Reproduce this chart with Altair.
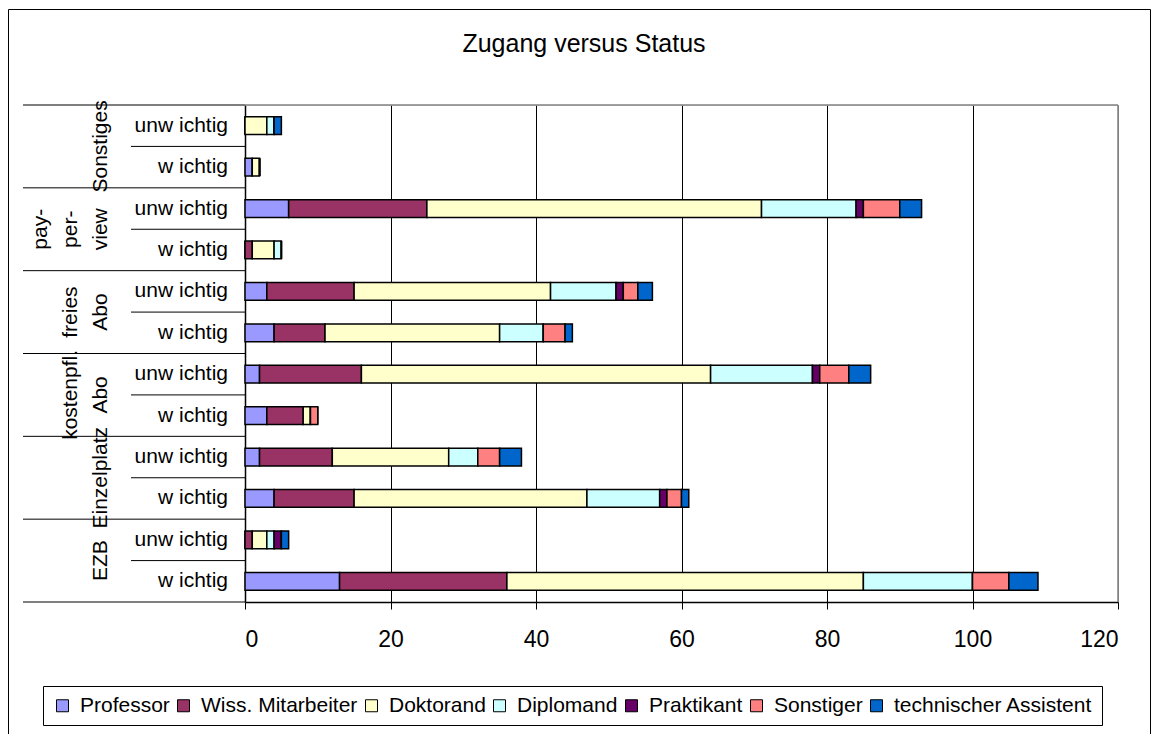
import altair as alt
import pandas as pd

# ---- data ----
groups = ["Sonstiges", "pay-per-view", "freies Abo", "kostenpfl. Abo", "Einzelplatz", "EZB"]
group_labels = ["Sonstiges", "pay-\nper-\nview", "freies\nAbo", "kostenpfl.\nAbo", "Einzelplatz", "EZB"]
sub_labels = ["unw ichtig", "w ichtig"]
statuses = ["Professor", "Wiss. Mitarbeiter", "Doktorand", "Diplomand",
            "Praktikant", "Sonstiger", "technischer Assistent"]
colors = ["#9999FF", "#993366", "#FFFFCC", "#CCFFFF", "#660066", "#FF8080", "#0066CC"]

# values per row, top to bottom (group x sub label)
professor = [0, 1, 6, 0, 3, 4, 2, 3, 2, 4, 0, 13]
wiss_mitarbeiter = [0, 0, 19, 1, 12, 7, 14, 5, 10, 11, 1, 23]
doktorand = [3, 1, 46, 3, 27, 24, 48, 1, 16, 32, 2, 49]
diplomand = [1, 0, 13, 1, 9, 6, 14, 0, 4, 10, 1, 15]
praktikant = [0, 0, 1, 0, 1, 0, 1, 0, 0, 1, 1, 0]
sonstiger = [0, 0, 5, 0, 2, 3, 4, 1, 3, 2, 0, 5]
tech_assistent = [1, 0, 3, 0, 2, 1, 3, 0, 3, 1, 1, 4]

x_ticks = [0, 20, 40, 60, 80, 100, 120]
title_text = "Zugang versus Status"

# ---- tables ----
series = [professor, wiss_mitarbeiter, doktorand, diplomand, praktikant, sonstiger, tech_assistent]
row_keys = [f"{g}|{s}" for g in groups for s in sub_labels]
n_rows = len(row_keys)

bar_rows = []
for si, (st, vals) in enumerate(zip(statuses, series)):
    for ri, key in enumerate(row_keys):
        bar_rows.append({"row": key, "status": st, "value": vals[ri], "order": si})
bar_df = pd.DataFrame(bar_rows)

sub_df = pd.DataFrame({"pos": [i + 0.5 for i in range(n_rows)],
                       "label": [sub_labels[i % 2] for i in range(n_rows)]})
line_rows = []
for gi, lab in enumerate(group_labels):
    parts = lab.split("\n")
    for k, part in enumerate(parts):
        line_rows.append({"pos": 2 * gi + 1, "label": part, "from_end": len(parts) - 1 - k})
grp_df = pd.DataFrame(line_rows)
outer_lines = pd.DataFrame({"pos": [2 * i for i in range(len(groups) + 1)]})
inner_lines = pd.DataFrame({"pos": [2 * i + 1 for i in range(len(groups))]})
one = pd.DataFrame({"t": [title_text]})

FONT = "Liberation Sans"
yq = alt.Scale(domain=[0, n_rows], reverse=True, nice=False, zero=False)

bars = alt.Chart(bar_df).mark_bar(stroke="black", strokeWidth=1.5).encode(
    x=alt.X("value:Q", stack="zero",
            scale=alt.Scale(domain=[0, 120], nice=False),
            axis=alt.Axis(values=x_ticks, title=None, grid=True,
                          gridColor={"condition": {"test": "datum.value >= 120", "value": "#808080"}, "value": "black"},
                          gridWidth=1, gridOpacity=1,
                          domainColor="black", domainWidth=1.5, tickColor="black", tickSize=7,
                          labelFontSize=23, labelPadding=19, labelColor="black", labelFont=FONT)),
    y=alt.Y("row:N", sort=row_keys,
            scale=alt.Scale(paddingInner=0.57, paddingOuter=0.285),
            axis=alt.Axis(labels=False, ticks=False, title=None, grid=False,
                          domainColor="black", domainWidth=1.5)),
    color=alt.Color("status:N", scale=alt.Scale(domain=statuses, range=colors),
                    legend=alt.Legend(title=None, orient="none", legendX=-202, legendY=581,
                                      direction="horizontal", symbolType="square", symbolSize=144,
                                      symbolStrokeColor="black", symbolStrokeWidth=1,
                                      labelFontSize=21, labelFont=FONT, labelColor="black",
                                      labelOffset=7, columnPadding=3, padding=9,
                                      strokeColor="black", fillColor="white", labelLimit=0)),
    order=alt.Order("order:Q"),
)

top_border = alt.Chart(one).mark_rule(color="#808080", strokeWidth=1.5).encode(
    x=alt.value(0), x2=alt.value("width"), y=alt.value(0))
right_border = alt.Chart(one).mark_rule(color="#808080", strokeWidth=1.5).encode(
    x=alt.value("width"), y=alt.value(0), y2=alt.value("height"))

outer_rules = alt.Chart(outer_lines).mark_rule(color="black", strokeWidth=1).encode(
    x=alt.value(-222), x2=alt.value(0), y=alt.Y("pos:Q", scale=yq, axis=None))
inner_rules = alt.Chart(inner_lines).mark_rule(color="black", strokeWidth=1).encode(
    x=alt.value(-114), x2=alt.value(0), y=alt.Y("pos:Q", scale=yq, axis=None))

sub_text = alt.Chart(sub_df).mark_text(align="right", baseline="middle", fontSize=21,
                                       font=FONT, color="black").encode(
    x=alt.value(-17), y=alt.Y("pos:Q", scale=yq, axis=None), text="label:N")


def group_line_layer(k, xpix):
    return alt.Chart(grp_df).transform_filter(alt.datum.from_end == k).mark_text(
        angle=270, align="center", baseline="bottom", fontSize=21, font=FONT, color="black"
    ).encode(x=alt.value(xpix), y=alt.Y("pos:Q", scale=yq, axis=None), text="label:N")


grp_text0 = group_line_layer(0, -134)
grp_text1 = group_line_layer(1, -164)
grp_text2 = group_line_layer(2, -194)

title = alt.Chart(one).mark_text(align="center", baseline="alphabetic", fontSize=25,
                                 font=FONT, color="black").encode(
    x=alt.value(339), y=alt.value(-53), text="t:N")

frame = alt.Chart(one).mark_rect(filled=False, stroke="black", strokeWidth=1).encode(
    x=alt.value(-236.5), x2=alt.value(905.5), y=alt.value(-95.5), y2=alt.value(640))

chart = alt.layer(
    bars, top_border, right_border, outer_rules, inner_rules, sub_text,
    grp_text0, grp_text1, grp_text2, title, frame
).resolve_scale(y="independent").properties(
    width=873, height=497,
    autosize=alt.AutoSizeParams(type="none"),
    padding={"left": 237, "top": 97, "right": 33, "bottom": 132},
).configure_view(stroke=None, fill="#C0C0C0").configure(font=FONT, background="white")

chart.save("out.html", embed_options={"renderer": "svg", "actions": False})
